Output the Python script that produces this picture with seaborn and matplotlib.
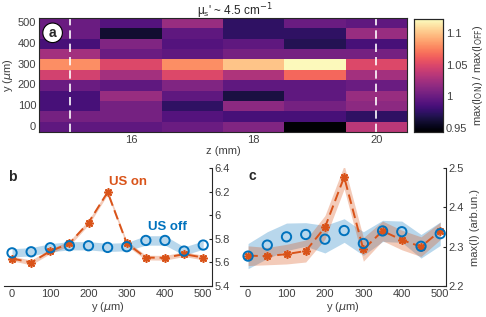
import numpy as np
import pandas as pd
import seaborn as sns
from matplotlib import pyplot as plt

# ---- data ----
z_mm = [15, 16, 17, 18, 19, 20]
y_um = [0, 50, 100, 150, 200, 250, 300, 350, 400, 450, 500]

# ratio max(I_ON)/max(I_OFF), rows follow y_um (0 -> 500), columns follow z_mm
ratio = [
    [0.995, 0.995, 1.000, 1.010, 0.944, 1.035],   # 0
    [1.005, 1.005, 0.990, 0.985, 0.985, 0.975],   # 50
    [0.985, 1.005, 0.975, 1.015, 1.005, 1.015],   # 100
    [0.985, 1.020, 0.995, 0.965, 0.995, 1.020],   # 150
    [1.000, 0.995, 1.010, 0.995, 0.995, 1.000],   # 200
    [1.045, 1.025, 1.050, 1.030, 1.065, 1.025],   # 250
    [1.080, 1.050, 1.080, 1.100, 1.120, 1.050],   # 300
    [1.025, 1.000, 0.995, 1.005, 1.005, 1.005],   # 350
    [0.985, 1.010, 0.990, 0.995, 0.970, 0.985],   # 400
    [1.000, 0.960, 0.995, 0.975, 0.975, 1.020],   # 450
    [1.000, 0.990, 1.020, 0.975, 1.000, 0.995],   # 500
]
cbar_ticks = [0.95, 1, 1.05, 1.1]
cbar_labels = ["0.95", "1", "1.05", "1.1"]

# panel b: z (mm) of the maximum
b_off = [5.681, 5.690, 5.724, 5.741, 5.741, 5.727, 5.733, 5.786, 5.786, 5.696, 5.747]
b_off_err = [0.035, 0.035, 0.035, 0.035, 0.035, 0.035, 0.035, 0.04, 0.04, 0.035, 0.035]
b_on = [5.633, 5.599, 5.695, 5.761, 5.937, 6.195, 5.761, 5.641, 5.639, 5.670, 5.641]
b_on_err = [0.02, 0.02, 0.02, 0.02, 0.02, 0.02, 0.02, 0.02, 0.02, 0.02, 0.02]

# panel c: max(I)
c_off = [2.276, 2.304, 2.325, 2.331, 2.319, 2.341, 2.308, 2.340, 2.338, 2.301, 2.333]
c_off_err = [0.032, 0.034, 0.035, 0.030, 0.035, 0.030, 0.030, 0.027, 0.027, 0.030, 0.030]
c_on = [2.277, 2.276, 2.281, 2.289, 2.349, 2.477, 2.293, 2.340, 2.317, 2.300, 2.340]
c_on_err = [0.025, 0.022, 0.025, 0.028, 0.030, 0.030, 0.030, 0.025, 0.025, 0.025, 0.022]

dash_z = [15, 20]

BLUE = "#0072BD"
ORANGE = "#D95319"
GREY = "#404040"

sns.set_style("white")
plt.rcParams["font.family"] = ["Liberation Sans", "DejaVu Sans"]
plt.rcParams["font.size"] = 8
plt.rcParams["mathtext.fontset"] = "dejavusans"
plt.rcParams["xtick.direction"] = "in"
plt.rcParams["ytick.direction"] = "in"
plt.rcParams["xtick.color"] = "#262626"
plt.rcParams["ytick.color"] = "#262626"
plt.rcParams["xtick.labelcolor"] = GREY
plt.rcParams["ytick.labelcolor"] = GREY
plt.rcParams["xtick.labelsize"] = 8
plt.rcParams["ytick.labelsize"] = 8

W, H = 486, 317
fig = plt.figure(figsize=(W / 100, H / 100), dpi=100)


def box(l, t, r, b):
    return [l / W, 1 - b / H, (r - l) / W, (b - t) / H]


# ---- panel a: heatmap ----
ax_a = fig.add_axes(box(39, 18, 407, 132))
cax = fig.add_axes(box(414, 19, 443, 132))
df = pd.DataFrame(ratio, index=y_um, columns=z_mm).iloc[::-1]
sns.heatmap(df, ax=ax_a, cmap="magma", vmin=0.944, vmax=1.122,
            cbar_ax=cax, cbar_kws={"ticks": cbar_ticks})


def zpos(z):
    return z - z_mm[0] + 0.5


def ypos(y):
    return (y_um[-1] - y) / 50 + 0.5


for zd in dash_z:
    ax_a.axvline(zpos(zd), color="white", lw=1.2, ls=(0, (5, 3)))
ax_a.set_xticks([zpos(z) for z in [16, 18, 20]])
ax_a.set_xticklabels(["16", "18", "20"], rotation=0)
ax_a.set_yticks([ypos(y) for y in [0, 100, 200, 300, 400, 500]])
ax_a.set_yticklabels(["0", "100", "200", "300", "400", "500"], rotation=0)
ax_a.tick_params(length=2.5, width=0.8, top=True, right=True, pad=2)
for s in ax_a.spines.values():
    s.set_visible(True)
    s.set_color("#262626")
    s.set_linewidth(0.8)
ax_a.set_xlabel("z (mm)", color=GREY, labelpad=1)
ax_a.set_ylabel(r"y ($\mu$m)", color=GREY, labelpad=2)
ax_a.text(0.037, 0.87, "a", transform=ax_a.transAxes, ha="center", va="center",
          fontsize=10, fontweight="bold",
          bbox=dict(boxstyle="circle,pad=0.2", fc="white", ec="black", lw=0.8))
fig.text(235 / W, 1 - 15 / H, r"$\mathregular{\mu_s}$' ~ 4.5 cm$^{-1}$",
         ha="center", va="baseline", fontsize=8.5, color="#262626")

cax.set_yticks(cbar_ticks)
cax.set_yticklabels(cbar_labels)
cax.tick_params(length=2.5, width=0.8, right=True, pad=2)
for s in cax.spines.values():
    s.set_visible(True)
    s.set_color("#262626")
    s.set_linewidth(0.8)
cax.set_ylabel(r"max(I$_{\rm ON}$) / max(I$_{\rm OFF}$)", color=GREY, labelpad=3)


# ---- panels b and c ----
def curve_panel(ax, off, off_err, on, on_err, ylim, yticks, yticklabels):
    y = np.array(y_um)
    off = np.array(off)
    on = np.array(on)
    ax.fill_between(y, off - np.array(off_err), off + np.array(off_err),
                    color=BLUE, alpha=0.28, lw=0)
    ax.fill_between(y, on - np.array(on_err), on + np.array(on_err),
                    color=ORANGE, alpha=0.3, lw=0)
    sns.lineplot(x=y, y=on, ax=ax, color=ORANGE, lw=1.4, ls=(0, (5, 2.5)),
                 marker=(8, 2, 0), markersize=6, markeredgewidth=1.2,
                 markeredgecolor=ORANGE)
    sns.scatterplot(x=y, y=off, ax=ax, marker="o", s=45, facecolor="none",
                    edgecolor=BLUE, linewidth=1.4, zorder=4)
    ax.set_ylim(*ylim)
    ax.set_yticks(yticks)
    ax.set_yticklabels(yticklabels)
    ax.set_xticks([0, 100, 200, 300, 400, 500])
    ax.yaxis.tick_right()
    ax.tick_params(length=2.5, width=0.8, pad=2, left=False, right=True)
    for side in ["top", "left"]:
        ax.spines[side].set_visible(False)
    for side in ["bottom", "right"]:
        ax.spines[side].set_color("#262626")
        ax.spines[side].set_linewidth(0.8)
    ax.set_xlabel(r"y ($\mu$m)", color=GREY, labelpad=1)


ax_b = fig.add_axes(box(4, 168, 212, 286))
curve_panel(ax_b, b_off, b_off_err, b_on, b_on_err, (5.4, 6.4),
            [5.4, 5.6, 5.8, 6, 6.2, 6.4], ["5.4", "5.6", "5.8", "6", "6.2", "6.4"])
ax_b.set_xlim(-21, 523)
ax_b.text(8 / W, 1 - 177 / H, "b", transform=fig.transFigure, fontsize=10,
          fontweight="bold", va="center")
ax_b.text(128 / W, 1 - 182 / H, "US on", transform=fig.transFigure, fontsize=9.5,
          fontweight="bold", color=ORANGE, ha="center", va="center")
ax_b.text(167 / W, 1 - 227 / H, "US off", transform=fig.transFigure, fontsize=9.5,
          fontweight="bold", color=BLUE, ha="center", va="center")

ax_c = fig.add_axes(box(240, 168, 446, 286))
curve_panel(ax_c, c_off, c_off_err, c_on, c_on_err, (2.2, 2.5),
            [2.2, 2.3, 2.4, 2.5], ["2.2", "2.3", "2.4", "2.5"])
ax_c.set_xlim(-21, 515)
ax_c.set_ylabel("max(I) (arb.un.)", color=GREY, labelpad=4)
ax_c.yaxis.set_label_position("right")
ax_c.text(248 / W, 1 - 176 / H, "c", transform=fig.transFigure, fontsize=10,
          fontweight="bold", va="center")

fig.savefig("out.png", dpi=100)
